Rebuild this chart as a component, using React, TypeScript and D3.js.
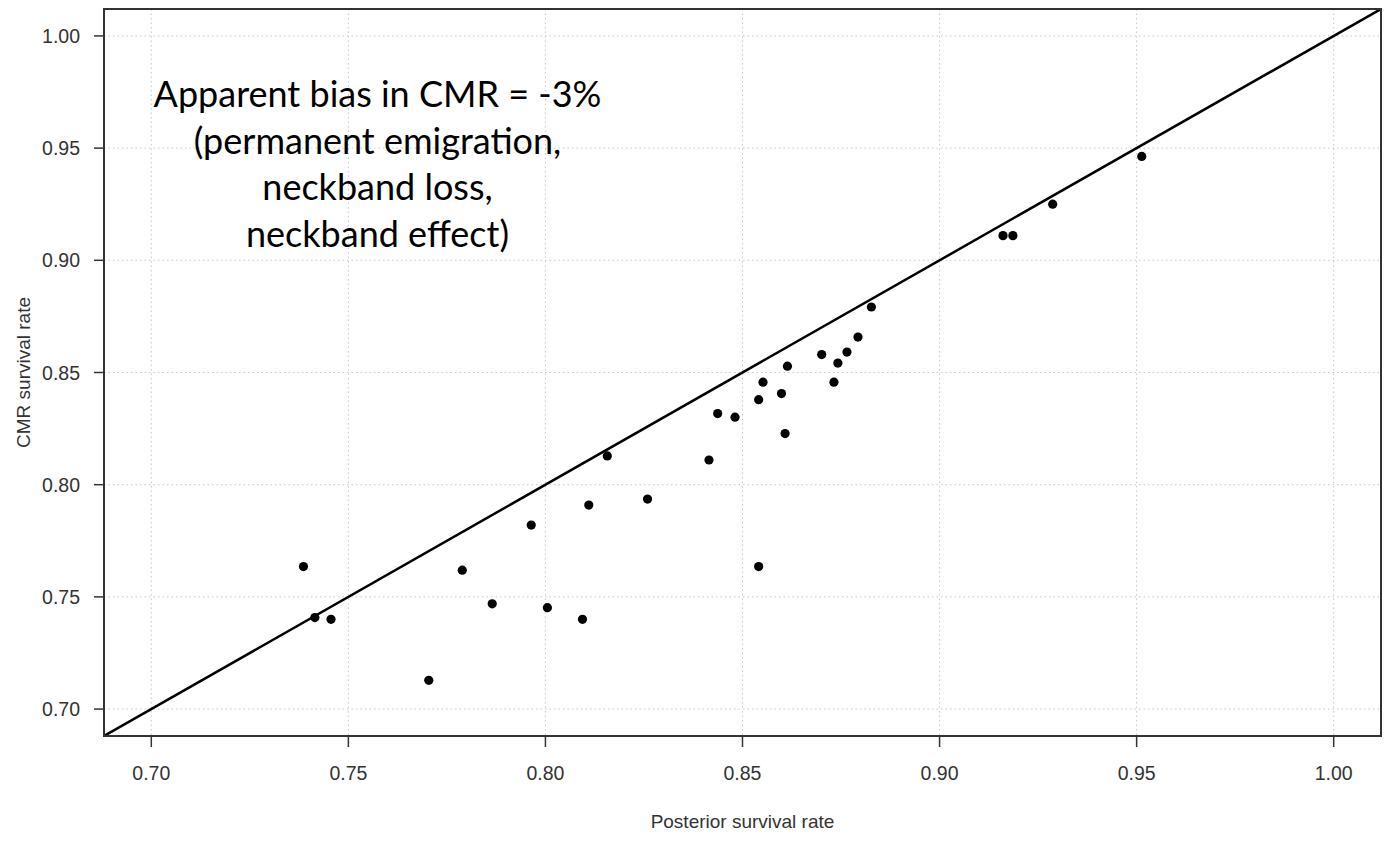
import React from 'react'
import { scaleLinear, line } from 'd3'

const posterior = [
  0.7386, 0.7415, 0.7456, 0.7704, 0.7789, 0.7865, 0.7964, 0.8005, 0.8094, 0.811,
  0.8157, 0.8259, 0.8415, 0.8437, 0.8481, 0.8541, 0.8541, 0.8552, 0.8599, 0.8608,
  0.8614, 0.8701, 0.8732, 0.8742, 0.8765, 0.8793, 0.8827, 0.9161, 0.9186, 0.9287,
  0.9513,
]
const cmr = [
  0.7635, 0.7408, 0.74, 0.7128, 0.7619, 0.7469, 0.782, 0.7452, 0.74, 0.7909,
  0.8128, 0.7936, 0.811, 0.8317, 0.8301, 0.7635, 0.8379, 0.8457, 0.8406, 0.8228,
  0.8528, 0.858, 0.8457, 0.8542, 0.8591, 0.8658, 0.8792, 0.911, 0.911, 0.925,
  0.9463,
]
const ticks = [0.7, 0.75, 0.8, 0.85, 0.9, 0.95, 1.0]
const note = [
  'Apparent bias in CMR = -3%',
  '(permanent emigration,',
  'neckband loss,',
  'neckband effect)',
]

const W = 1384
const H = 849
const left = 104, right = 1381, top = 9, bottom = 736
const domain: [number, number] = [0.688, 1.012]

export default function App() {
  const x = scaleLinear().domain(domain).range([left, right])
  const y = scaleLinear().domain(domain).range([bottom, top])
  const diag = line<number>().x(d => x(d)).y(d => y(d))
  const axisFont = "'Liberation Sans', Arial, sans-serif"

  return (
    <svg width={W} height={H} style={{ position: 'absolute', left: 0, top: 0, background: '#fff' }}>
      <defs>
        <clipPath id="plot">
          <rect x={left} y={top} width={right - left} height={bottom - top} />
        </clipPath>
      </defs>

      {/* dotted grid */}
      {ticks.map(t => (
        <g key={'g' + t} stroke="#c8c8c8" strokeWidth={1} strokeDasharray="1.5,3">
          <line x1={x(t)} x2={x(t)} y1={top} y2={bottom} />
          <line x1={left} x2={right} y1={y(t)} y2={y(t)} />
        </g>
      ))}

      {/* y = x */}
      <path d={diag(domain) || ''} stroke="#000" strokeWidth={2.5} fill="none" clipPath="url(#plot)" />

      {posterior.map((p, i) => (
        <circle key={i} cx={x(p)} cy={y(cmr[i])} r={4.6} fill="#000" />
      ))}

      <rect x={left} y={top} width={right - left} height={bottom - top} fill="none" stroke="#333" strokeWidth={2} />

      {/* axes */}
      <g fontFamily={axisFont} fontSize={19.5} fill="#333">
        {ticks.map(t => (
          <g key={'x' + t}>
            <line x1={x(t)} x2={x(t)} y1={bottom} y2={bottom + 11} stroke="#333" strokeWidth={1.5} />
            <text x={x(t)} y={780} textAnchor="middle">{t.toFixed(2)}</text>
          </g>
        ))}
        {ticks.map(t => (
          <g key={'y' + t}>
            <line x1={left - 10} x2={left} y1={y(t)} y2={y(t)} stroke="#333" strokeWidth={1.5} />
            <text x={80} y={y(t) + 7} textAnchor="end">{t.toFixed(2)}</text>
          </g>
        ))}
        <text x={(left + right) / 2} y={828} textAnchor="middle" fontSize={19}>Posterior survival rate</text>
        <text transform={`translate(30,${(top + bottom) / 2}) rotate(-90)`} textAnchor="middle" fontSize={19}>CMR survival rate</text>
      </g>

      {/* annotation */}
      <g fontFamily="Lato, 'Open Sans', sans-serif" fontSize={36} fill="#000" textAnchor="middle">
        {note.map((s, i) => (
          <text key={s} x={377.5} y={107 + i * 46.7}>{s}</text>
        ))}
      </g>
    </svg>
  )
}
